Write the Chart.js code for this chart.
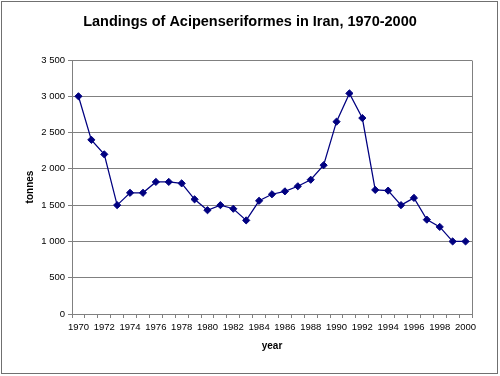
<!DOCTYPE html>
<html>
<head>
<meta charset="utf-8">
<script src="https://cdn.jsdelivr.net/npm/chart.js@4/dist/chart.umd.min.js"></script>
<style>
html,body{margin:0;padding:0;background:#fff;}
canvas{display:block;}
</style>
</head>
<body>
<canvas id="c" width="500" height="376"></canvas>
<script>
const years = ['1970','1971','1972','1973','1974','1975','1976','1977','1978','1979','1980','1981','1982','1983','1984','1985','1986','1987','1988','1989','1990','1991','1992','1993','1994','1995','1996','1997','1998','1999','2000'];
const landings = [3000,2400,2200,1500,1670,1670,1820,1820,1800,1580,1430,1500,1450,1290,1560,1650,1690,1760,1850,2050,2650,3040,2700,1710,1700,1500,1600,1300,1200,1000,1000];
const titleText = 'Landings of Acipenseriformes in Iran, 1970-2000';
const xTitle = 'year';
const yTitle = 'tonnes';

const FONT = '"Liberation Sans", Arial, sans-serif';

const framePlugin = {
  id: 'frame',
  afterDraw(chart) {
    const ctx = chart.ctx;
    const a = chart.chartArea;
    ctx.save();
    ctx.strokeStyle = '#808080';
    ctx.lineWidth = 1;
    ctx.beginPath();
    ctx.moveTo(Math.round(a.right) + 0.5, Math.round(a.top) + 0.5);
    ctx.lineTo(Math.round(a.right) + 0.5, Math.round(a.bottom) + 0.5);
    ctx.stroke();
    ctx.strokeStyle = '#707070';
    ctx.strokeRect(1.5, 1.5, 496, 372);
    ctx.restore();
  }
};

new Chart(document.getElementById('c'), {
  type: 'line',
  data: {
    labels: years,
    datasets: [{
      data: landings,
      borderColor: '#000080',
      backgroundColor: '#000080',
      borderWidth: 1.25,
      pointStyle: 'rectRot',
      pointRadius: 3.6,
      pointBorderWidth: 1,
      pointBackgroundColor: '#000080',
      pointBorderColor: '#000080',
      tension: 0,
      fill: false
    }]
  },
  options: {
    responsive: false,
    animation: false,
    devicePixelRatio: 1,
    layout: { padding: { left: 0, right: 0, top: 0, bottom: 0 } },
    plugins: {
      legend: { display: false },
      tooltip: { enabled: false },
      title: {
        display: true,
        text: titleText,
        color: '#000',
        font: { family: FONT, size: 14.5, weight: 'bold', lineHeight: 1.2 },
        padding: { top: 13, bottom: 29.6 }
      }
    },
    scales: {
      x: {
        type: 'category',
        offset: true,
        afterFit(s) { s.height = 62; },
        grid: { display: true, drawOnChartArea: false, offset: true, color: '#808080', tickLength: 4, tickColor: '#808080' },
        border: { display: true, color: '#808080' },
        ticks: {
          autoSkip: false, maxRotation: 0, minRotation: 0, padding: 4,
          color: '#000', font: { family: FONT, size: 9.5 },
          callback(v, i) { return i % 2 === 0 ? this.getLabelForValue(v) : ''; }
        },
        title: { display: true, text: xTitle, color: '#000', font: { family: FONT, size: 10, weight: 'bold', lineHeight: 1.2 }, padding: { top: 0, bottom: 24 } }
      },
      y: {
        min: 0, max: 3500,
        afterFit(s) { s.width = 72; },
        grid: { color: '#808080', tickLength: 4, tickColor: '#808080' },
        border: { display: true, color: '#808080' },
        ticks: {
          stepSize: 500, padding: 3, color: '#000', font: { family: FONT, size: 9.5 },
          callback(v) { return String(v).replace(/\B(?=(\d{3})+(?!\d))/g, ' '); }
        },
        title: { display: true, text: yTitle, color: '#000', font: { family: FONT, size: 10, weight: 'bold', lineHeight: 1.2 }, padding: { top: 24, bottom: 0 } }
      },
      yRight: {
        type: 'linear',
        position: 'right',
        display: true,
        min: 0, max: 3500,
        afterFit(s) { s.width = 28; },
        grid: { display: false, drawOnChartArea: false },
        border: { display: false },
        ticks: { display: false },
        title: { display: false }
      }
    }
  },
  plugins: [framePlugin]
});
</script>
</body>
</html>
